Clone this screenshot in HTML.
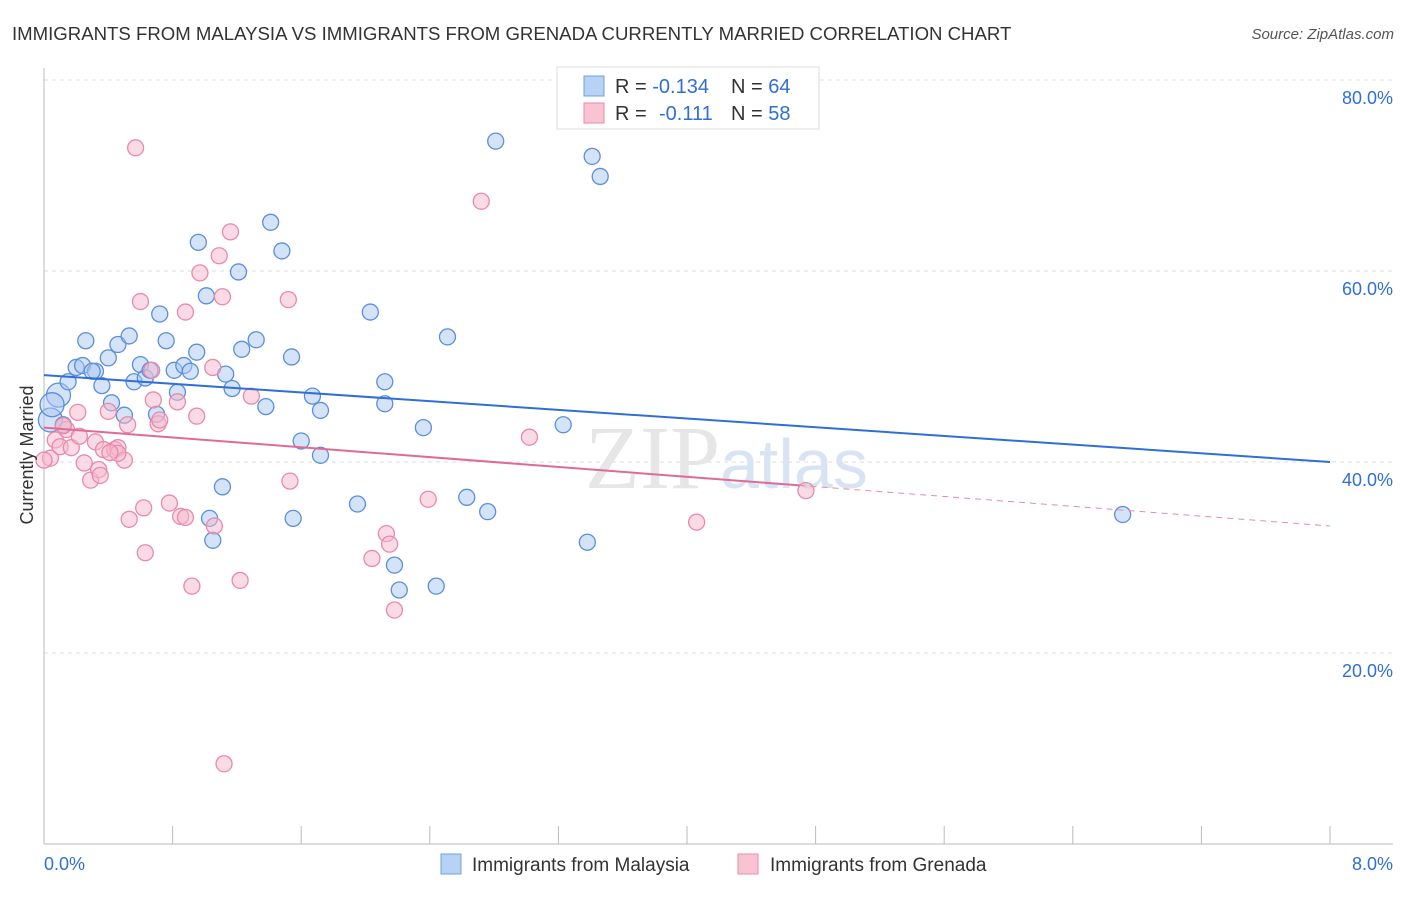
<!DOCTYPE html>
<html><head><meta charset="utf-8"><style>
body{margin:0;background:#fff;font-family:"Liberation Sans",sans-serif}
</style></head><body>
<svg id="c" width="1406" height="892" xmlns="http://www.w3.org/2000/svg">
<text x="12" y="40" font-size="18.6" fill="#333">IMMIGRANTS FROM MALAYSIA VS IMMIGRANTS FROM GRENADA CURRENTLY MARRIED CORRELATION CHART</text>
<text x="1394" y="39" font-size="15" fill="#555" font-style="italic" text-anchor="end">Source: ZipAtlas.com</text>
<g id="grid"></g>
<text x="720" y="488" font-size="90" fill="#e6e6e6" text-anchor="end" font-family="Liberation Serif">ZIP</text>
<text x="720" y="488" font-size="70" fill="#d8e4f4">atlas</text>
<g id="marks"></g>
<text transform="translate(33,455) rotate(-90)" font-size="18" fill="#333" text-anchor="middle">Currently Married</text>
<g>
<rect x="557" y="67" width="262" height="62" fill="#fff" stroke="#ddd"/>
<rect x="584" y="76" width="20" height="20" fill="#b8d2f4" stroke="#6f9fe0"/>
<rect x="584" y="103" width="20" height="20" fill="#f8c4d4" stroke="#e88aa8"/>
<text x="615" y="93" font-size="20" fill="#333">R = <tspan fill="#2f6fd6">-0.134</tspan></text>
<text x="731" y="93" font-size="20" fill="#333">N = <tspan fill="#2f6fd6">64</tspan></text>
<text x="615" y="120" font-size="20" fill="#333">R =</text>
<text x="659" y="120" font-size="20" fill="#2f6fd6">-0.111</text>
<text x="731" y="120" font-size="20" fill="#333">N = <tspan fill="#2f6fd6">58</tspan></text>
</g>
<g>
<rect x="441" y="854" width="20" height="20" fill="#b8d2f4" stroke="#6f9fe0"/>
<text x="472" y="871" font-size="19" fill="#333">Immigrants from Malaysia</text>
<rect x="738" y="854" width="20" height="20" fill="#f8c4d4" stroke="#e88aa8"/>
<text x="770" y="871" font-size="19" fill="#333">Immigrants from Grenada</text>
</g>
</svg>
<script>
const yTicks=[20,40,60,80];
const yTickLabels=["20.0%","40.0%","60.0%","80.0%"];
const xTickLabels=["0.0%","8.0%"];
const blueX=[0.04,0.09,0.15,0.05,0.26,0.20,0.24,0.32,0.30,0.36,0.40,0.42,0.46,0.50,0.53,0.56,0.60,0.63,0.66,0.70,0.72,0.76,0.81,0.83,0.87,0.91,0.95,0.96,1.01,1.05,1.03,1.11,1.13,1.17,1.21,1.23,1.32,1.38,1.41,1.48,1.54,1.55,1.60,1.67,1.72,1.72,1.95,2.03,2.12,2.12,2.18,2.21,2.36,2.44,2.51,2.63,2.76,2.81,3.23,3.38,3.41,3.46,6.71,0.12];
const blueY=[44.4,47.0,48.4,46.0,52.7,49.9,50.1,49.5,49.5,48.0,50.9,46.2,52.3,44.9,53.2,48.4,50.2,48.8,49.6,45.0,55.5,52.7,49.6,47.3,50.1,49.5,51.5,63.0,57.4,31.8,34.1,37.4,49.2,47.7,59.9,51.8,52.8,45.8,65.1,62.1,51.0,34.1,42.2,46.9,45.4,40.7,35.6,55.7,48.4,46.1,29.2,26.6,43.6,27.0,53.1,36.3,34.8,73.6,43.9,31.6,72.0,69.9,34.5,43.9];
const pinkX=[0.04,0.07,0.10,0.14,0.17,0.21,0.25,0.29,0.32,0.34,0.35,0.37,0.40,0.44,0.46,0.50,0.52,0.53,0.57,0.60,0.62,0.63,0.67,0.68,0.71,0.72,0.78,0.83,0.85,0.88,0.88,0.92,0.95,0.97,1.05,1.06,1.09,1.11,1.12,1.16,1.22,1.29,1.52,1.53,2.04,2.13,2.15,2.18,2.39,2.72,3.02,4.06,4.74,0.12,0.46,0.22,0.00,0.41];
const pinkY=[40.4,42.3,41.6,43.4,41.5,45.2,39.9,38.1,42.1,39.2,38.6,41.3,45.3,41.3,41.5,40.2,43.9,34.0,72.9,56.8,35.2,30.5,49.6,46.5,44.0,44.4,35.7,46.3,34.3,34.2,55.7,27.0,44.8,59.8,49.9,33.3,61.6,57.3,8.4,64.1,27.6,46.9,57.0,38.0,29.9,32.5,31.4,24.5,36.1,67.3,42.6,33.7,37.0,43.8,40.9,42.7,40.2,41.0];
const blueTrend=[49.1,40.0];
const pinkTrend=[43.6,33.3];
const pinkSolidEnd=4.7;
const NS="http://www.w3.org/2000/svg";
const X=v=>44+v/8*1286, Y=v=>844-v*9.55;
function mk(t,a,p){const e=document.createElementNS(NS,t);for(const k in a)e.setAttribute(k,a[k]);p.appendChild(e);return e;}
const g=document.getElementById('grid'), m=document.getElementById('marks');
yTicks.forEach((t,i)=>{
 const l=mk('line',{x1:44,x2:1393,y1:Y(t),y2:Y(t),stroke:'#ddd','stroke-dasharray':'4,4'},g);
 
 
 const tx=mk('text',{x:1393,y:Y(t)+24,'font-size':18,fill:'#2f6fd6','text-anchor':'end'},g);
 tx.textContent=yTickLabels[i];
 
 
});
mk('line',{x1:44,x2:44,y1:68,y2:844,stroke:'#bbb'},g);
mk('line',{x1:44,x2:1393,y1:844,y2:844,stroke:'#bbb'},g);
for(let i=0;i<=10;i++){const l=mk('line',{x1:X(i*0.8),x2:X(i*0.8),y1:826,y2:844,stroke:'#bbb'},g);
 
 }
[[0,'start',44],[1,'end',1393]].forEach(([i,a,x])=>{const t=mk('text',{x:x,y:870,'font-size':18,fill:'#2f6fd6','text-anchor':a},g);t.textContent=xTickLabels[i];
 
 });
function dots(xs,ys,fill,stroke,name){xs.forEach((x,i)=>{const r=(x<0.1&&name==='malaysia-point')?12:8;
 const c=mk('circle',{cx:X(x),cy:Y(ys[i]),r:r,fill:fill,'fill-opacity':0.5,stroke:stroke,'stroke-width':1.3},m);
 
 });}
dots(blueX,blueY,'#a9c8f0','#5a8fdc','malaysia-point');
dots(pinkX,pinkY,'#f5b8cb','#e88aa8','grenada-point');
const bl=mk('line',{x1:X(0),y1:Y(blueTrend[0]),x2:X(8),y2:Y(blueTrend[1]),stroke:'#2f6fd6','stroke-width':2},m);


const pv=x=>pinkTrend[0]+(pinkTrend[1]-pinkTrend[0])*x/8;
const pl=mk('line',{x1:X(0),y1:Y(pv(0)),x2:X(pinkSolidEnd),y2:Y(pv(pinkSolidEnd)),stroke:'#e06a93','stroke-width':2},m);


const pd=mk('line',{x1:X(pinkSolidEnd),y1:Y(pv(pinkSolidEnd)),x2:X(8),y2:Y(pv(8)),stroke:'#e88aa8','stroke-width':1,'stroke-dasharray':'6,5'},m);


</script>
</body></html>
